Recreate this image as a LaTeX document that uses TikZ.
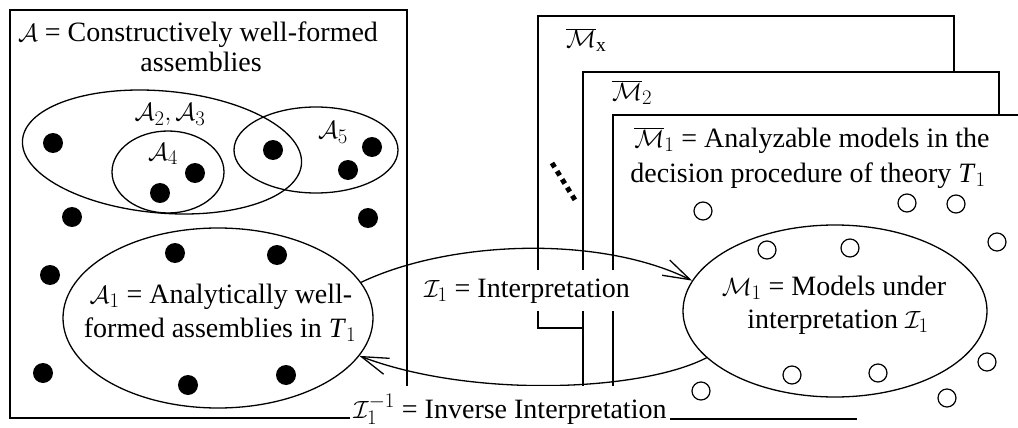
\documentclass[tikz,border=0pt]{standalone}
\usepackage{fontspec}
\setmainfont{Liberation Serif}
\usetikzlibrary{shapes.geometric,arrows.meta}
\begin{document}
\begin{tikzpicture}[x=1pt,y=-1pt,
  every node/.style={font=\fontsize{28}{35}\selectfont, inner sep=0pt},
  ln/.style={line width=1.3pt},
  setell/.style={ellipse, draw, line width=1.3pt, inner sep=0pt},
  dot/.style={circle, fill=black, minimum size=20pt, inner sep=0pt},
  odot/.style={circle, draw, line width=1.2pt, minimum size=18pt, inner sep=0pt},
  txt/.style={anchor=base},
  arr/.style={line width=1.3pt, -{Straight Barb[length=27pt,width=17pt]}},
  cover/.style={fill=white, inner xsep=3pt, inner ysep=8pt}]
\useasboundingbox (0,0) rectangle (1018,428);

% left box
\node[draw, ln, minimum width=397pt, minimum height=408pt] (Abox) at (208.5,214) {};

% stacked frames
\draw[ln] (583,328) -- (538,328) -- (538,16) -- (954,16) -- (954,72);
\draw[ln] (583,387) -- (583,72) -- (999,72) -- (999,115);
\draw[ln] (857,419) -- (613,419) -- (613,115) -- (1018,115);
\draw[line width=5pt, dash pattern=on 5pt off 4.6pt] (552,163) -- (575,200);

% sets
\node[setell, minimum width=280pt, minimum height=122pt, rotate=-5] (A23) at (162,152) {};
\node[setell, minimum width=112pt, minimum height=82pt] (A4) at (168,172) {};
\node[setell, minimum width=164pt, minimum height=86pt] (A5) at (316,150) {};
\node[setell, minimum width=310pt, minimum height=180pt] (A1) at (218,318) {};
\node[setell, minimum width=304pt, minimum height=172pt] (M1) at (835,311) {};

% filled dots
\foreach \p [count=\i] in {(53,143),(195,173),(160,193),(273,150),(348,170),(372,147),
  (72,217),(368,218),(50,275),(175,253),(277,255),(43,373),(188,385),(286,375)}
  \node[dot] (d\i) at \p {};

% open circles
\foreach \p [count=\i] in {(703,211),(907,203),(956,204),(997,242),(767,250),(850,248),
  (987,362),(792,375),(878,373),(701,391),(947,398)}
  \node[odot] (o\i) at \p {};

% texts
\node[txt] (t1) at (198,42) {$\mathcal{A}$ = Constructively well-formed};
\node[txt] (t2) at (201,72) {assemblies};
\node[txt] (lA23) at (170,121) {$\mathcal{A}_2, \mathcal{A}_3$};
\node[txt] (lA4) at (163,160) {$\mathcal{A}_4$};
\node[txt] (lA5) at (333,139) {$\mathcal{A}_5$};
\node[txt] (a1a) at (221,303) {$\mathcal{A}_1$ = Analytically well-};
\node[txt] (a1b) at (220,337) {formed assemblies in \textit{T}$_1$};
\node[txt] (m1a) at (834,295) {$\mathcal{M}_1$ = Models under};
\node[txt] (m1b) at (838,328) {interpretation $\mathcal{I}_1$};
\node[anchor=base west] (mx) at (566,48) {$\overline{\mathcal{M}}_{\mathrm{x}}$};
\node[anchor=base west] (m2) at (612,100) {$\overline{\mathcal{M}}_2$};
\node[txt] (mb1) at (812,147) {$\overline{\mathcal{M}}_1$ = Analyzable models in the};
\node[txt] (mb2) at (808,182) {decision procedure of theory \textit{T}$_1$};

% arrows
\draw[arr] (A1.14) .. controls (450,240) and (600,235) .. (M1.168);
\draw[arr] (M1.200) .. controls (640,392) and (470,398) .. (A1.-15);

% labels over lines
\node[txt, cover] (interp) at (527,297) {$\mathcal{I}_1$ = Interpretation};
\node[txt, cover] (inv) at (510,418) {$\mathcal{I}_1^{-1}$ = Inverse Interpretation};
\end{tikzpicture}
\end{document}
